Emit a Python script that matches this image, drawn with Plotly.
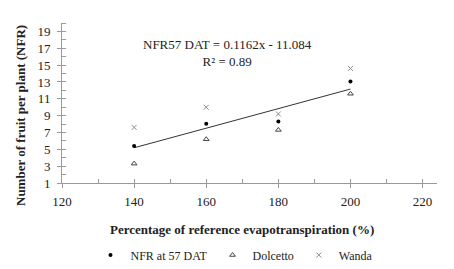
import plotly.graph_objects as go

et_pct = [140, 160, 180, 200]
nfr_57dat = [5.4, 8.05, 8.3, 13.05]
dolcetto = [3.3, 6.2, 7.3, 11.6]
wanda = [7.6, 10.0, 9.2, 14.6]
fit_slope = 0.1162
fit_intercept = -11.084
r2 = 0.89

FONT = "Liberation Serif"
AX = "#9a9a9a"

fit_x = [min(et_pct), max(et_pct)]
fit_y = [fit_slope * v + fit_intercept for v in fit_x]

fig = go.Figure()
fig.add_trace(go.Scatter(x=fit_x, y=fit_y, mode="lines",
                         line=dict(color="#333333", width=1), showlegend=False, hoverinfo="skip"))
fig.add_trace(go.Scatter(x=et_pct, y=nfr_57dat, mode="markers", name="NFR at 57 DAT",
                         marker=dict(symbol="circle", size=4, color="black")))
fig.add_trace(go.Scatter(x=et_pct, y=dolcetto, mode="markers", name="Dolcetto",
                         marker=dict(symbol="triangle-up-open", size=5, color="#444444",
                                     line=dict(width=1, color="#444444"))))
fig.add_trace(go.Scatter(x=et_pct, y=wanda, mode="markers", name="Wanda",
                         marker=dict(symbol="x-thin-open", size=5, color="#8c8c8c",
                                     line=dict(width=1, color="#8c8c8c"))))
fig.add_trace(go.Scatter(x=[None], y=[None], xaxis="x2", yaxis="y2",
                         showlegend=False, hoverinfo="skip"))

xr = [120, 224]
yr = [1, 20]

fig.update_layout(
    width=446, height=261,
    margin=dict(l=54, r=17, t=15, b=86, autoexpand=False),
    plot_bgcolor="white", paper_bgcolor="white",
    font=dict(family=FONT, size=13, color="#222222"),
    xaxis=dict(range=xr, tickvals=[120, 140, 160, 180, 200, 220], showgrid=False, zeroline=False,
               showline=True, linecolor=AX, linewidth=1, ticks="outside", ticklen=4, tickcolor=AX,
               minor=dict(tickvals=[130, 150, 170, 190, 210], ticks="inside", ticklen=4, tickcolor=AX),
               tickfont=dict(size=13, family=FONT), ticklabelstandoff=2),
    yaxis=dict(range=yr, tickvals=[1, 3, 5, 7, 9, 11, 13, 15, 17, 19], showgrid=False, zeroline=False,
               showline=True, linecolor=AX, linewidth=1, ticks="outside", ticklen=4, tickcolor=AX,
               minor=dict(tickvals=[2, 4, 6, 8, 10, 12, 14, 16, 18, 20], ticks="inside", ticklen=4, tickcolor=AX),
               tickfont=dict(size=13, family=FONT), ticklabelstandoff=4),
    xaxis2=dict(range=xr, overlaying="x", tickvals=[120, 140, 160, 180, 200, 220], showticklabels=False,
                ticks="inside", ticklen=4, tickcolor=AX, showgrid=False, zeroline=False, showline=False),
    yaxis2=dict(range=yr, overlaying="y", tickvals=[1, 3, 5, 7, 9, 11, 13, 15, 17, 19], showticklabels=False,
                ticks="inside", ticklen=4, tickcolor=AX, showgrid=False, zeroline=False, showline=False),
    legend=dict(orientation="h", x=0.46, xanchor="center", y=-0.45, yanchor="middle",
                font=dict(size=12, family=FONT), itemwidth=30, tracegroupgap=0),
    annotations=[
        dict(x=166, y=16.4, xref="x", yref="y", showarrow=False,
             text=f"NFR57 DAT = {fit_slope}x - {abs(fit_intercept)}<br>R² = {r2}",
             font=dict(size=13, family=FONT)),
        dict(x=(242 - 62) / 375, y=-(229 - 183) / 160, xref="paper", yref="paper", showarrow=False,
             xanchor="center", yanchor="middle",
             text="<b>Percentage of reference evapotranspiration (%)</b>", font=dict(size=13, family=FONT)),
        dict(x=-(62 - 20) / 375, y=(183 - 116) / 160, xref="paper", yref="paper", showarrow=False,
             xanchor="center", yanchor="middle",
             textangle=-90, text="<b>Number of fruit per plant (NFR)</b>", font=dict(size=13, family=FONT)),
    ],
)

fig.write_html("out.html")
